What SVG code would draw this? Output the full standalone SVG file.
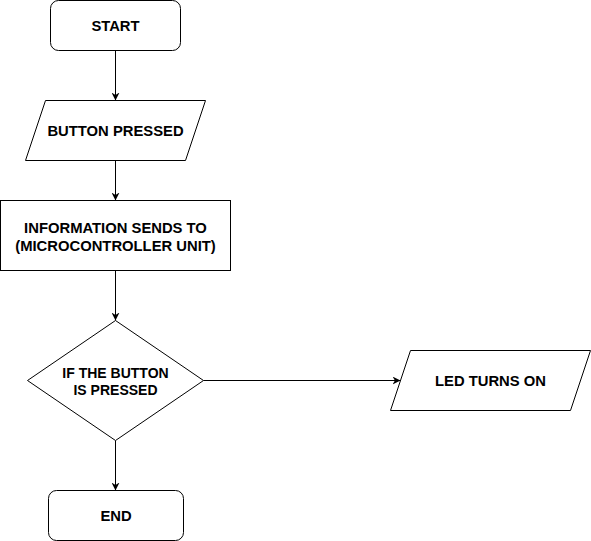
<svg xmlns="http://www.w3.org/2000/svg" width="591" height="541" viewBox="0 0 591 541">
  <style>
    .shape { fill: #ffffff; stroke: #000000; stroke-width: 1; }
    .edge { fill: none; stroke: #000000; stroke-width: 1; }
    .label { font-family: "Liberation Sans", Arial, sans-serif; font-weight: bold; font-size: 14.8px; fill: #000000; text-anchor: middle; }
    .small { font-size: 14px; }
  </style>
  <defs>
    <marker id="arrow" viewBox="0 0 10 10" refX="10" refY="5" markerWidth="8" markerHeight="8" markerUnits="userSpaceOnUse" orient="auto">
      <path d="M0,0 L10,5 L0,10 L3,5 z" fill="#000000" stroke="none"/>
    </marker>
  </defs>
  <rect width="591" height="541" fill="#ffffff"/>

  <g id="connectors">
    <line class="edge" x1="115.5" y1="50.5" x2="115.5" y2="100.5" marker-end="url(#arrow)"/>
    <line class="edge" x1="115.5" y1="160.5" x2="115.5" y2="200.5" marker-end="url(#arrow)"/>
    <line class="edge" x1="115.5" y1="270.5" x2="115.5" y2="320.5" marker-end="url(#arrow)"/>
    <line class="edge" x1="115.5" y1="440.5" x2="115.5" y2="490.5" marker-end="url(#arrow)"/>
    <line class="edge" x1="203.5" y1="380.5" x2="400.5" y2="380.5" marker-end="url(#arrow)"/>
  </g>

  <g id="start">
    <rect class="shape" x="50.5" y="0.5" width="130" height="50" rx="8" ry="8"/>
    <text class="label" x="115.5" y="31">START</text>
  </g>

  <g id="button-pressed">
    <polygon class="shape" points="45.5,100.5 205.5,100.5 185.5,160.5 25.5,160.5"/>
    <text class="label" x="115.5" y="135.5">BUTTON PRESSED</text>
  </g>

  <g id="information">
    <rect class="shape" x="0.5" y="200.5" width="230" height="70"/>
    <text class="label" x="115.5" y="232.5">INFORMATION SENDS TO</text>
    <text class="label" x="115.5" y="250.5">(MICROCONTROLLER UNIT)</text>
  </g>

  <g id="decision">
    <polygon class="shape" points="115.5,320.5 203.5,380.5 115.5,440.5 27.5,380.5"/>
    <text class="label small" x="115.5" y="377.5">IF THE BUTTON</text>
    <text class="label small" x="115.5" y="394.5">IS PRESSED</text>
  </g>

  <g id="led-on">
    <polygon class="shape" points="410.5,350.5 590.5,350.5 570.5,410.5 390.5,410.5"/>
    <text class="label" x="490.5" y="385.5">LED TURNS ON</text>
  </g>

  <g id="end">
    <rect class="shape" x="48.5" y="490.5" width="135" height="50" rx="8" ry="8"/>
    <text class="label" x="116" y="521">END</text>
  </g>
</svg>
